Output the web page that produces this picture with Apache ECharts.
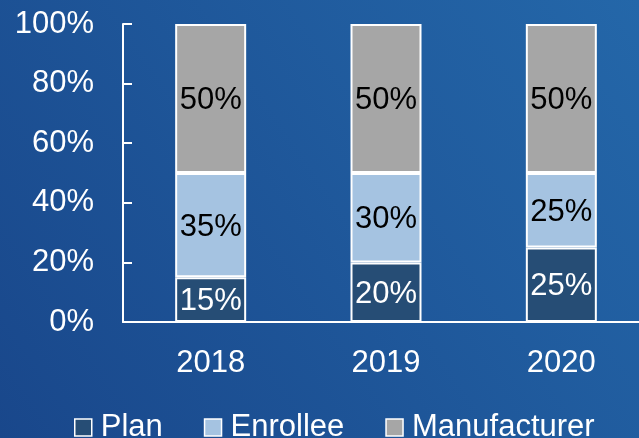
<!DOCTYPE html>
<html lang="en">
<head>
    <meta charset="UTF-8">
    <title>Share by year</title>
    <script src="https://cdn.jsdelivr.net/npm/echarts@6/dist/echarts.min.js"></script>
    <style>
        html, body { margin: 0; padding: 0; }
        #main { width: 639px; height: 438px; }
    </style>
</head>
<body>
    <div id="main"></div>
    <script type="text/javascript">
        var years = ['2018', '2019', '2020'];
        var plan = [15, 20, 25];
        var enrollee = [35, 30, 25];
        var manufacturer = [50, 50, 50];

        var font = 'Liberation Sans, Arial, sans-serif';
        var myChart = echarts.init(document.getElementById('main'));

        function barLabel(color) {
            return {
                show: true,
                position: 'inside',
                offset: [0, 2],
                formatter: '{c}%',
                color: color,
                fontSize: 31,
                fontFamily: font
            };
        }

        var option = {
            backgroundColor: {
                type: 'linear', x: 0, y: 1, x2: 1, y2: 0,
                colorStops: [
                    { offset: 0, color: '#19478b' },
                    { offset: 1, color: '#2467a9' }
                ]
            },
            animation: false,
            // x axis runs past the right edge, like the original slide
            grid: { left: 123, width: 526, top: 24, height: 298, outerBoundsMode: 'none' },
            legend: {
                left: 74,
                top: 412,
                padding: 0,
                itemWidth: 17,
                itemHeight: 17,
                itemGap: 41,
                icon: 'rect',
                textStyle: { color: '#fff', fontSize: 31, fontFamily: font, padding: [6, 0, 0, 4] },
                itemStyle: { borderColor: '#fff', borderWidth: 1.5 },
                data: ['Plan', 'Enrollee', 'Manufacturer']
            },
            xAxis: {
                type: 'category',
                data: years,
                axisLine: { lineStyle: { color: '#fff', width: 2 } },
                axisTick: { show: false },
                axisLabel: { color: '#fff', fontSize: 31, fontFamily: font, margin: 26 }
            },
            yAxis: {
                type: 'value',
                min: 0,
                max: 100,
                interval: 20,
                splitLine: { show: false },
                axisLine: { show: true, lineStyle: { color: '#fff', width: 2 } },
                axisTick: { show: true, inside: true, length: 9, lineStyle: { color: '#fff', width: 2 } },
                axisLabel: { color: '#fff', fontSize: 31, fontFamily: font, margin: 29, formatter: '{value}%' }
            },
            series: [
                {
                    name: 'Plan', type: 'bar', stack: 'total', barWidth: 71,
                    data: plan,
                    itemStyle: { color: '#264d75', borderColor: '#fff', borderWidth: 2 },
                    label: barLabel('#fff')
                },
                {
                    name: 'Enrollee', type: 'bar', stack: 'total', barWidth: 71,
                    data: enrollee,
                    itemStyle: { color: '#a5c3e1', borderColor: '#fff', borderWidth: 2 },
                    label: barLabel('#000')
                },
                {
                    name: 'Manufacturer', type: 'bar', stack: 'total', barWidth: 71,
                    data: manufacturer,
                    itemStyle: { color: '#a6a6a6', borderColor: '#fff', borderWidth: 2 },
                    label: barLabel('#000')
                }
            ]
        };
        myChart.setOption(option);
    </script>
</body>
</html>
